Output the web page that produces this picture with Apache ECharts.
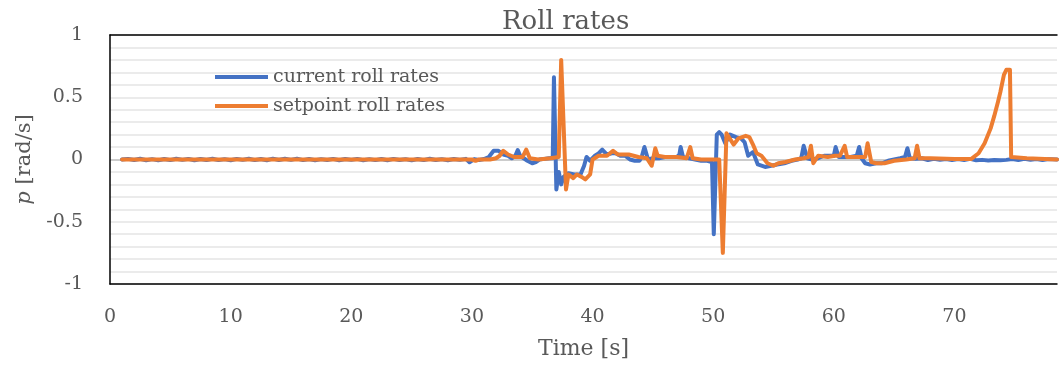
<!DOCTYPE html>
<html lang="en">
<head>
    <meta charset="UTF-8">
    <title>Roll rates</title>
    <script src="https://cdn.jsdelivr.net/npm/echarts@6/dist/echarts.min.js"></script>
    <style>
        html, body { margin: 0; padding: 0; background: #fff; }
        #chart { width: 1060px; height: 367px; }
    </style>
</head>
<body>
    <div id="chart"></div>

    <script>
    // time [s] and roll rate [rad/s]
    const currentTime = [
        1.0, 1.5, 2.0, 2.5, 3.0, 3.5, 4.0, 4.5, 5.0, 5.5, 6.0, 6.5, 7.0, 7.5, 8.0, 8.5, 9.0, 9.5,
        10.0, 10.5, 11.0, 11.5, 12.0, 12.5, 13.0, 13.5, 14.0, 14.5, 15.0, 15.5, 16.0, 16.5, 17.0, 17.5,
        18.0, 18.5, 19.0, 19.5, 20.0, 20.5, 21.0, 21.5, 22.0, 22.5, 23.0, 23.5, 24.0, 24.5, 25.0, 25.5,
        26.0, 26.5, 27.0, 27.5, 28.0, 28.5, 29.0, 29.5, 29.8, 30.2, 30.6, 31.0, 31.4, 31.8, 32.2, 32.6,
        33.0, 33.3, 33.6, 33.8, 34.0, 34.3, 34.6, 35.0, 35.3, 35.6, 36.0, 36.4, 36.7, 36.8, 37.0, 37.2,
        37.4, 37.6, 38.0, 38.5, 39.0, 39.3, 39.5, 39.8, 40.2, 40.5, 40.8, 41.2, 41.6, 41.9, 42.3, 42.7,
        43.1, 43.5, 43.9, 44.1, 44.3, 44.6, 45.0, 45.5, 46.0, 46.5, 47.0, 47.2, 47.3, 47.5, 48.0, 48.5,
        49.0, 49.5, 49.9, 50.05, 50.3, 50.5, 50.7, 51.0, 51.4, 51.9, 52.3, 52.6, 52.9, 53.3, 53.7, 54.3,
        54.8, 55.3, 55.9, 56.5, 57.0, 57.3, 57.5, 57.8, 58.2, 58.7, 59.2, 59.7, 60.0, 60.15, 60.4, 60.9,
        61.4, 61.9, 62.1, 62.3, 62.6, 63.0, 63.5, 64.0, 64.5, 65.0, 65.5, 65.9, 66.1, 66.3, 66.8, 67.3,
        67.8, 68.3, 68.8, 69.3, 69.8, 70.3, 70.8, 71.3, 71.8, 72.3, 72.8, 73.3, 73.8, 74.3, 74.8, 75.3,
        75.8, 76.3, 76.8, 77.3, 77.8, 78.5
    ];
    const currentRate = [
        0.0, 0.005, -0.004, 0.006, -0.006, 0.003, -0.007, 0.004, -0.005, 0.006, -0.003, 0.005, -0.006, 0.004, -0.004, 0.006, -0.005, 0.003,
        -0.006, 0.005, -0.003, 0.006, -0.005, 0.004, -0.006, 0.007, -0.004, 0.006, -0.003, 0.007, -0.005, 0.004, -0.006, 0.003,
        -0.004, 0.005, -0.006, 0.004, -0.003, 0.005, -0.006, 0.003, -0.005, 0.004, -0.006, 0.005, -0.004, 0.003, -0.007, 0.004,
        -0.005, 0.006, -0.004, 0.003, -0.006, 0.004, -0.003, 0.005, -0.022, 0.003, -0.004, 0.004, 0.02, 0.07, 0.07, 0.04,
        0.03, 0.01, 0.03, 0.075, 0.03, 0.01, -0.01, -0.03, -0.02, 0.0, 0.005, 0.01, 0.01, 0.66, -0.24, -0.1,
        -0.2, -0.14, -0.11, -0.12, -0.12, -0.05, 0.02, -0.01, 0.03, 0.05, 0.08, 0.04, 0.05, 0.05, 0.03, 0.03,
        0.0, -0.01, -0.01, 0.03, 0.1, 0.0, 0.01, 0.01, 0.02, 0.02, 0.02, 0.04, 0.1, 0.02, 0.01, 0.0,
        -0.01, -0.01, -0.02, -0.6, 0.2, 0.22, 0.2, 0.13, 0.2, 0.18, 0.17, 0.14, 0.03, 0.06, -0.04, -0.06,
        -0.05, -0.04, -0.03, -0.01, 0.0, 0.01, 0.11, 0.01, 0.0, 0.01, 0.03, 0.03, 0.03, 0.1, 0.02, 0.02,
        0.02, 0.03, 0.1, 0.01, -0.03, -0.04, -0.03, -0.03, -0.01, 0.0, 0.01, 0.02, 0.09, 0.01, 0.005, 0.01,
        -0.004, 0.005, -0.003, 0.004, -0.005, 0.003, -0.004, 0.005, -0.006, -0.003, -0.008, -0.004, -0.006, -0.003, 0.004, -0.004,
        0.005, -0.003, 0.004, -0.005, 0.003, 0.0
    ];

    const setpointTime = [
        1.0, 30.0, 30.3, 30.6, 31.5, 32.0, 32.3, 32.6, 33.0, 33.5, 34.2, 34.5, 34.8, 35.5, 36.5, 37.2,
        37.4, 37.8, 38.0, 38.4, 38.7, 39.1, 39.4, 39.8, 40.0, 40.5, 41.2, 41.7, 42.1, 43.0, 43.8, 44.5,
        44.9, 45.2, 45.4, 46.0, 47.0, 47.8, 48.1, 48.3, 49.0, 50.5, 50.8, 51.1, 51.7, 52.1, 52.7, 53.0,
        53.3, 53.6, 54.0, 54.5, 55.0, 55.4, 56.0, 56.8, 57.5, 57.9, 58.1, 58.3, 58.7, 59.5, 60.1, 60.5,
        60.9, 61.1, 62.0, 62.6, 62.8, 63.1, 63.5, 64.2, 65.0, 66.0, 66.7, 66.9, 67.1, 68.0, 70.0, 71.4,
        72.0, 72.5, 73.0, 73.3, 73.6, 73.8, 74.1, 74.3, 74.6, 74.7, 76.0, 78.5
    ];
    const setpointRate = [
        0.0, 0.0, -0.01, 0.0, 0.0, 0.01, 0.03, 0.07, 0.04, 0.02, 0.02, 0.08, 0.01, 0.0, 0.01, 0.02,
        0.8, -0.24, -0.12, -0.15, -0.12, -0.14, -0.16, -0.12, 0.0, 0.03, 0.03, 0.07, 0.04, 0.04, 0.02, 0.01,
        -0.05, 0.09, 0.03, 0.02, 0.02, 0.01, 0.1, 0.01, 0.0, 0.0, -0.75, 0.21, 0.12, 0.17, 0.19, 0.18,
        0.12, 0.05, 0.03, -0.03, -0.05, -0.03, -0.02, 0.0, 0.01, 0.02, 0.11, -0.03, 0.03, 0.02, 0.03, 0.03,
        0.11, 0.02, 0.02, 0.02, 0.13, -0.02, -0.03, -0.03, -0.01, 0.0, 0.01, 0.11, 0.01, 0.01, 0.005, 0.005,
        0.05, 0.13, 0.25, 0.35, 0.46, 0.54, 0.68, 0.72, 0.72, 0.02, 0.01, 0.0
    ];

    const yLabels = [-1, -0.5, 0, 0.5, 1];
    const xLabels = [0, 10, 20, 30, 40, 50, 60, 70];

    const font = 'DejaVu Serif';
    const grey = '#595959';

    // gridlines every 0.1 from -1 to 1, the zero line a bit darker
    const gridColors = [];
    for (let i = 0; i <= 20; i++) gridColors.push(i === 10 ? '#cccccc' : '#ebebeb');

    const chart = echarts.init(document.getElementById('chart'));

    chart.setOption({
        animation: false,
        title: {
            text: 'Roll rates',
            left: 497,
            top: 4,
            textStyle: { fontFamily: font, fontSize: 26, fontWeight: 'normal', color: grey }
        },
        legend: {
            orient: 'vertical',
            left: 210,
            top: 61,
            icon: 'rect',
            itemWidth: 53,
            itemHeight: 4,
            itemGap: 7,
            textStyle: { fontFamily: font, fontSize: 19, color: grey, lineHeight: 22 },
            data: ['current roll rates', 'setpoint roll rates']
        },
        grid: {
            left: 110,
            right: 0,
            top: 35,
            bottom: 83
        },
        xAxis: [
            {
                type: 'value',
                min: 0,
                max: 78.5,
                interval: 10,
                name: 'Time [s]',
                nameLocation: 'middle',
                nameGap: 54,
                nameTextStyle: { fontFamily: font, fontSize: 22, color: grey },
                axisLine: { show: true, onZero: false, lineStyle: { color: '#000', width: 1.5 } },
                axisTick: { show: false },
                splitLine: { show: false },
                axisLabel: {
                    margin: 24,
                    fontFamily: font,
                    fontSize: 19,
                    color: grey,
                    formatter: v => xLabels.includes(v) ? String(v) : ''
                }
            },
            {
                // top edge of the plot box
                type: 'value',
                position: 'top',
                min: 0,
                max: 78.5,
                axisLine: { show: true, onZero: false, lineStyle: { color: '#000', width: 1.5 } },
                axisTick: { show: false },
                axisLabel: { show: false },
                splitLine: { show: false }
            }
        ],
        yAxis: {
            type: 'value',
            min: -1,
            max: 1,
            interval: 0.1,
            name: '{i|p} [rad/s]',
            nameLocation: 'middle',
            nameGap: 72,
            nameTextStyle: {
                fontFamily: font, fontSize: 21, color: grey,
                rich: { i: { fontFamily: font, fontStyle: 'italic', fontSize: 21, color: grey } }
            },
            axisLine: { show: true, lineStyle: { color: '#000', width: 1.5 } },
            axisTick: { show: false },
            minorTick: { show: false },
            axisLabel: {
                margin: 27,
                fontFamily: font,
                fontSize: 19,
                color: grey,
                formatter: v => {
                    const r = Math.round(v * 10) / 10;
                    return yLabels.includes(r) ? String(r) : '';
                }
            },
            splitLine: {
                show: true,
                lineStyle: { color: gridColors, width: 2 }
            }
        },
        series: [
            {
                name: 'current roll rates',
                type: 'line',
                showSymbol: false,
                symbol: 'none',
                data: currentTime.map((t, i) => [t, currentRate[i]]),
                lineStyle: { color: '#4472C4', width: 4, join: 'round', cap: 'round' },
                itemStyle: { color: '#4472C4' }
            },
            {
                name: 'setpoint roll rates',
                type: 'line',
                showSymbol: false,
                symbol: 'none',
                data: setpointTime.map((t, i) => [t, setpointRate[i]]),
                lineStyle: { color: '#ED7D31', width: 4, join: 'round', cap: 'round' },
                itemStyle: { color: '#ED7D31' }
            }
        ]
    });
    </script>
</body>
</html>
